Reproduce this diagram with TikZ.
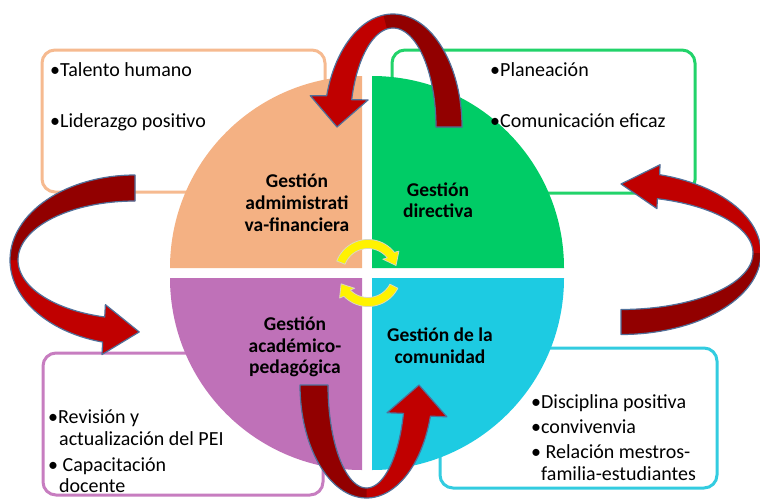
\documentclass[tikz,border=0pt]{standalone}
\usepackage{fontspec}
\setmainfont{Carlito}
\usetikzlibrary{calc}
\definecolor{cOr}{HTML}{F4B183}
\definecolor{cGr}{HTML}{00CC66}
\definecolor{cPu}{HTML}{BF71B8}
\definecolor{cCy}{HTML}{1DCBE2}
\definecolor{bOr}{HTML}{F6BA90}
\definecolor{bGr}{HTML}{22D36A}
\definecolor{bPu}{HTML}{C77DC0}
\definecolor{bCy}{HTML}{33CCE0}
\definecolor{rBright}{HTML}{C00000}
\definecolor{rDark}{HTML}{920000}
\definecolor{rEdge}{HTML}{50709A}
\definecolor{yEdge}{HTML}{D8D8C0}
% #1 cx #2 cy #3 rx #4 ry #5 wx #6 wy #7 start angle #8 head-base angle #9 tip angle
\newcommand{\ribbon}[9]{%
 \coordinate (rB) at ({#1+#3*cos(#8)},{#2+#4*sin(#8)});
 \coordinate (rT) at ({#1+#3*cos(#9)},{#2+#4*sin(#9)});
 \coordinate (rO) at ($(rB)!\rhw!\rside:(rT)$);
 \coordinate (rI) at ($(rO)!2!(rB)$);
 \fill[fill=\rfill] plot[domain=#7:#8,samples=60] ({#1+(#3+#5)*cos(\x)},{#2+(#4+#6)*sin(\x)}) -- (rO) -- (rT) -- (rI) -- plot[domain=#8:#7,samples=60] ({#1+(#3-#5)*cos(\x)},{#2+(#4-#6)*sin(\x)}) -- cycle;
 \fill[fill=\rtail] plot[domain=#7:\rmid,samples=40] ({#1+(#3+#5)*cos(\x)},{#2+(#4+#6)*sin(\x)}) -- plot[domain=\rmid:#7,samples=40] ({#1+(#3-#5)*cos(\x)},{#2+(#4-#6)*sin(\x)}) -- cycle;
 \draw[draw=\redge,line width=\rlw,line join=round] plot[domain=#7:#8,samples=60] ({#1+(#3+#5)*cos(\x)},{#2+(#4+#6)*sin(\x)}) -- (rO) -- (rT) -- (rI) -- plot[domain=#8:#7,samples=60] ({#1+(#3-#5)*cos(\x)},{#2+(#4-#6)*sin(\x)}) -- cycle;
}
\tikzset{
 infobox/.style={rounded corners=13pt,line width=3pt,fill=white},
 btxt/.style={anchor=base west,inner sep=0pt,font=\fontsize{20}{24}\selectfont},
 lbl/.style={anchor=base,inner sep=0pt,font=\bfseries\fontsize{19.5}{23}\selectfont},
}
\begin{document}
\begin{tikzpicture}[x=1pt,y=-1pt]
\useasboundingbox (0,0) rectangle (760,501);
\fill[white] (0,0) rectangle (760,501);
% boxes
\draw[infobox,draw=bOr] (42,50) rectangle (325,192);
\draw[infobox,draw=bGr] (392,50) rectangle (695,193);
\draw[infobox,draw=bPu] (43,353) rectangle (323,495);
\draw[infobox,draw=bCy] (440,348) rectangle (717,488);
% sectors
\fill[cOr] (362,268) -- ++(-192pt,0pt) arc[start angle=180,end angle=90,radius=192pt] -- cycle;
\fill[cGr] (372,268) -- ++(0pt,192pt) arc[start angle=90,end angle=0,radius=192pt] -- cycle;
\fill[cPu] (362,278) -- ++(-192pt,0pt) arc[start angle=180,end angle=270,radius=192pt] -- cycle;
\fill[cCy] (372,278) -- ++(192pt,0pt) arc[start angle=0,end angle=-90,radius=192pt] -- cycle;
% box texts
\node[btxt] (t1) at (50,76) {•Talento humano};
\node[btxt] (t2) at (50,127) {•Liderazgo positivo};
\node[btxt] (t3) at (490,76) {•Planeación};
\node[btxt] (t4) at (490,127) {•Comunicación eficaz};
\node[btxt] (t5) at (48,423) {•Revisión y};
\node[btxt] (t6) at (59,445) {actualización del PEI};
\node[btxt] (t7) at (48,471) {• Capacitación};
\node[btxt] (t8) at (59,492) {docente};
\node[btxt] (t9) at (531,408) {•Disciplina positiva};
\node[btxt] (t10) at (531,433) {•convivenvia};
\node[btxt] (t11) at (531,458) {• Relación mestros-};
\node[btxt] (t12) at (541,480) {familia-estudiantes};
% sector labels
\node[lbl] (o1) at (297,187) {Gestión};
\node[lbl] (o2) at (297,209) {admimistrati};
\node[lbl] (o3) at (297,231) {va-financiera};
\node[lbl] (g1) at (438,196) {Gestión};
\node[lbl] (g2) at (438,217) {directiva};
\node[lbl] (p1) at (295,330) {Gestión};
\node[lbl] (p2) at (295,352) {académico-};
\node[lbl] (p3) at (295,373) {pedagógica};
\node[lbl] (c1) at (440,341) {Gestión de la};
\node[lbl] (c2) at (440,363) {comunidad};
% red ribbon arrows
\def\rfill{rBright}\def\rtail{rDark}\def\redge{rEdge}\def\rlw{1.2pt}\def\rside{-90}
\def\rhw{29pt}\def\rmid{262}
\ribbon{393}{127}{56}{106}{13}{7}{360}{196}{180}
\def\rhw{25pt}\def\rmid{180}
\ribbon{135}{260}{121}{72}{4}{13}{270}{105}{88}
\def\rhw{22pt}\def\rmid{0}
\ribbon{621}{253}{136}{69}{4}{12.5}{90}{-74}{-90}
\def\rhw{30pt}\def\rmid{90}
\ribbon{366.5}{385}{52.5}{108}{14}{5}{180}{16}{0}
% yellow circular arrows
\def\rfill{yellow}\def\rtail{yellow}\def\redge{yEdge}\def\rlw{0.8pt}\def\rside{90}
\def\rhw{9pt}\def\rmid{260}
\ribbon{368}{273}{29}{29}{4.5}{4.5}{201}{322}{345}
\def\rmid{80}
\ribbon{368}{273}{29}{29}{4.5}{4.5}{27}{136}{158}
\end{tikzpicture}
\end{document}
